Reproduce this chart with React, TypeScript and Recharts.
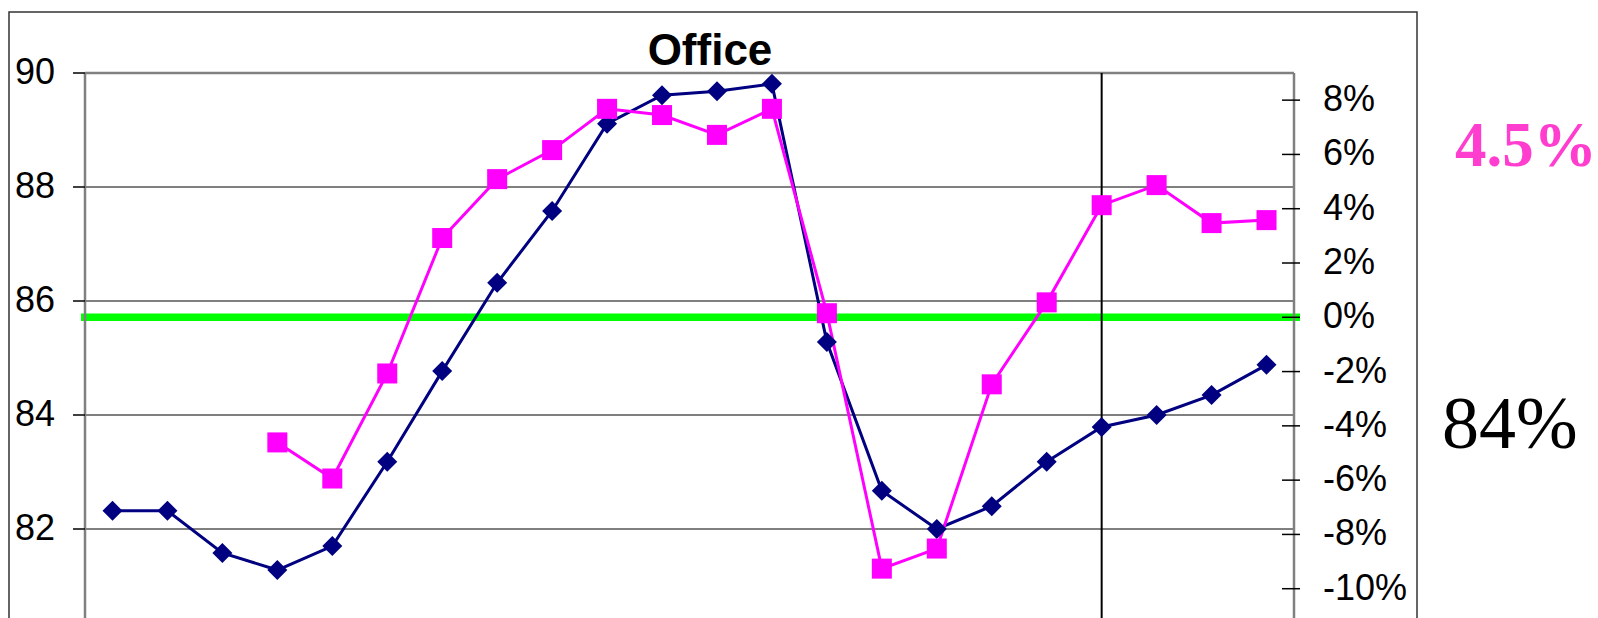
import React from 'react';
import { LineChart, Line, XAxis, YAxis, CartesianGrid, ReferenceLine } from 'recharts';

// Quarterly periods along the x axis
const periods = [
  '1', '2', '3', '4', '5', '6', '7', '8', '9', '10', '11',
  '12', '13', '14', '15', '16', '17', '18', '19', '20', '21', '22',
];

// Office occupancy level (left axis)
const occupancy = [
  82.32, 82.32, 81.58, 81.28, 81.7, 83.18, 84.77, 86.32, 87.58, 89.11, 89.61,
  89.68, 89.81, 85.28, 82.67, 82.0, 82.4, 83.18, 83.79, 84.0, 84.35, 84.88,
];

// Year-over-year change (right axis)
const yoyChange: (number | null)[] = [
  null, null, null, -0.0461, -0.0594, -0.0207, 0.0292, 0.0509, 0.0616, 0.0768, 0.0745,
  0.0672, 0.0768, 0.0015, -0.0926, -0.0852, -0.0247, 0.0055, 0.0413, 0.0487, 0.0347, 0.0358,
];

const leftTicks = [82, 84, 86, 88, 90];
const rightTicks = [-0.1, -0.08, -0.06, -0.04, -0.02, 0, 0.02, 0.04, 0.06, 0.08];
const markerPeriod = periods[18];

const chartTitle = 'Office';
const changeNote = '4.5%';
const levelNote = '84%';

const data = periods.map((period, i) => ({
  period,
  occupancy: occupancy[i],
  change: yoyChange[i],
}));

const FONT = '"Liberation Sans", Arial, sans-serif';
const SERIF = '"Liberation Serif", "Times New Roman", serif';
const PLOT_LEFT = 85;
const PLOT_RIGHT = 1294;
// half a category slot, so points sit in the middle of each slot
const HALF_SLOT = (PLOT_RIGHT - PLOT_LEFT) / periods.length / 2;

const Diamond = (props: any) => {
  const { cx, cy } = props;
  if (cx == null || cy == null || isNaN(cy)) return <g />;
  const r = 10;
  return (
    <polygon
      points={`${cx},${cy - r} ${cx + r},${cy} ${cx},${cy + r} ${cx - r},${cy}`}
      fill="#000080"
    />
  );
};

const Square = (props: any) => {
  const { cx, cy } = props;
  if (cx == null || cy == null || isNaN(cy)) return <g />;
  return <rect x={cx - 10} y={cy - 10} width={20} height={20} fill="#ff00ff" />;
};

const LeftTick = ({ y, payload }: any) => (
  <g>
    <line x1={PLOT_LEFT - 12} x2={PLOT_LEFT} y1={y} y2={y} stroke="#000" strokeWidth={1.5} />
    <text x={55} y={y + 11} textAnchor="end" fontSize={36} fontFamily={FONT} fill="#000">
      {payload.value}
    </text>
  </g>
);

const RightTick = ({ y, payload }: any) => (
  <g>
    <line x1={PLOT_RIGHT - 12} x2={PLOT_RIGHT + 6} y1={y} y2={y} stroke="#000" strokeWidth={1.5} />
    <text x={PLOT_RIGHT + 29} y={y + 11} textAnchor="start" fontSize={36} fontFamily={FONT} fill="#000">
      {`${Math.round(payload.value * 100)}%`}
    </text>
  </g>
);

// zero-change band, slightly inset from the plot edges
const ZeroBand = (props: any) => (
  <line x1={props.x1 + 6} x2={props.x2 - 4} y1={props.y1} y2={props.y2} stroke="#00ff00" strokeWidth={7.5} />
);

const Marker = (props: any) => (
  <line x1={props.x1} x2={props.x2} y1={props.y1 + 4} y2={props.y2} stroke="#000" strokeWidth={2} />
);

export default function App() {
  return (
    <div
      style={{
        position: 'absolute',
        left: 0,
        top: 0,
        width: 1598,
        height: 618,
        overflow: 'hidden',
        background: '#fff',
      }}
    >
      <LineChart
        width={1598}
        height={700}
        data={data}
        margin={{ top: 73, right: 204, bottom: 57, left: 0 }}
      >
        <CartesianGrid yAxisId="left" vertical={false} stroke="#000" strokeWidth={1} />
        <XAxis dataKey="period" hide padding={{ left: HALF_SLOT, right: HALF_SLOT }} />
        <YAxis
          yAxisId="left"
          width={85}
          domain={[80, 90]}
          ticks={leftTicks}
          allowDataOverflow
          tickLine={false}
          axisLine={{ stroke: '#808080', strokeWidth: 2.5 }}
          tick={<LeftTick />}
        />
        <YAxis
          yAxisId="right"
          orientation="right"
          width={100}
          domain={[-0.12, 0.09]}
          ticks={rightTicks}
          allowDataOverflow
          tickLine={false}
          axisLine={{ stroke: '#808080', strokeWidth: 2.5 }}
          tick={<RightTick />}
        />
        <ReferenceLine yAxisId="left" y={90} stroke="#808080" strokeWidth={2.5} />
        <ReferenceLine yAxisId="right" y={0} shape={<ZeroBand />} />
        <ReferenceLine yAxisId="left" x={markerPeriod} shape={<Marker />} />
        <Line
          yAxisId="left"
          dataKey="occupancy"
          stroke="#000080"
          strokeWidth={3}
          dot={<Diamond />}
          activeDot={false}
          isAnimationActive={false}
        />
        <Line
          yAxisId="right"
          dataKey="change"
          stroke="#ff00ff"
          strokeWidth={3}
          dot={<Square />}
          activeDot={false}
          isAnimationActive={false}
        />
      </LineChart>
      <svg
        width={1598}
        height={618}
        style={{ position: 'absolute', left: 0, top: 0, pointerEvents: 'none' }}
      >
        <rect x={9} y={12} width={1408} height={700} fill="none" stroke="#333" strokeWidth={1.5} />
        <text x={710} y={65} textAnchor="middle" fontSize={44} fontWeight="bold" fontFamily={FONT} fill="#000">
          {chartTitle}
        </text>
        <text x={1455} y={166} fontSize={63} fontWeight="bold" fontFamily={SERIF} fill="#ff3ecf">
          {changeNote}
        </text>
        <text x={1442} y={448} fontSize={74} fontFamily={SERIF} fill="#000">
          {levelNote}
        </text>
      </svg>
    </div>
  );
}
